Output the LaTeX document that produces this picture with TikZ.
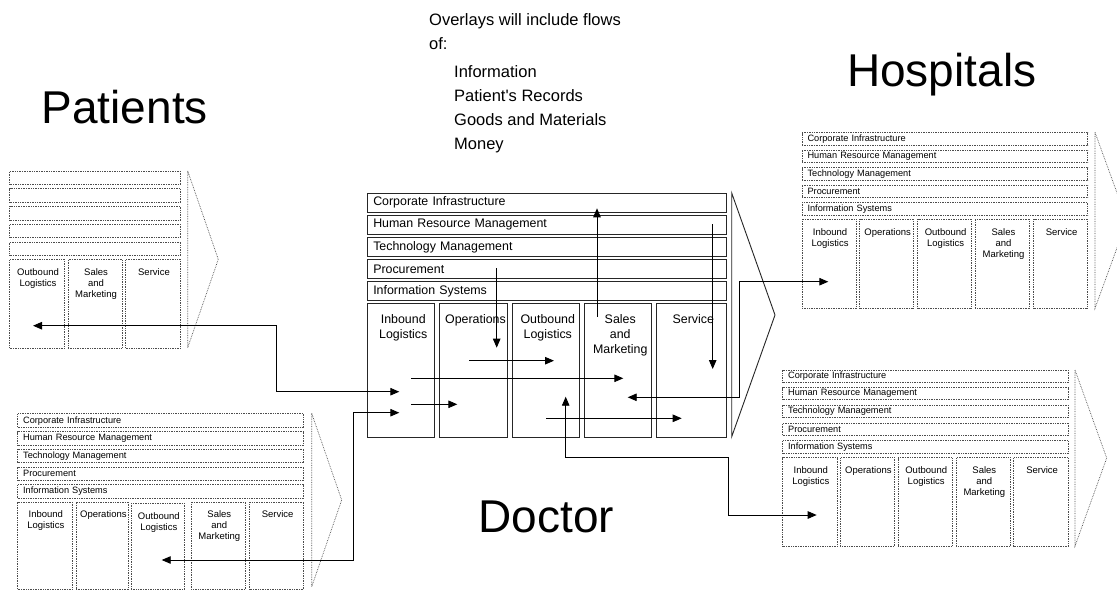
\documentclass[tikz,border=0pt]{standalone}
\usepackage{fontspec}
\setmainfont{Liberation Sans}
\newfontfamily\notefont{Liberation Sans}[Ligatures=TeXOff]
\usetikzlibrary{arrows.meta}

% support bar of a value chain: name, style, x1, y1, x2, y2, text
\newcommand\vcbar[7]{%
  \pgfmathsetmacro\vcw{#5-#3-11}\pgfmathsetmacro\vch{#6-#4}%
  \node[#2, anchor=north west, minimum height=\vch pt, text width=\vcw pt,
        inner xsep=5.5pt, inner ysep=0pt, align=left] (#1) at (#3,#4) {#7};}
% primary activity column: name, style, x1, y1, x2, y2, text
\newcommand\vccol[7]{%
  \pgfmathsetmacro\vcw{#5-#3}\pgfmathsetmacro\vch{#6-#4}%
  \node[#2, anchor=north west, minimum width=\vcw pt, minimum height=\vch pt,
        inner sep=0pt, label={[#2 text]north:{#7}}] (#1) at (#3,#4) {};}

\tikzset{
  mainline/.style={draw=black!85, line width=0.9pt},
  miniline/.style={draw=black!70, densely dotted, line width=0.7pt},
  mainbar/.style={mainline, font=\fontsize{12.4}{15}\selectfont},
  maincol/.style={mainline},
  maincol text/.style={anchor=north, inner sep=0pt, yshift=-11pt, xshift=2pt,
    align=center, font=\fontsize{12.4}{15}\selectfont},
  minibar/.style={miniline, font=\fontsize{9.2}{11}\selectfont},
  minicol/.style={miniline},
  minicol text/.style={anchor=north, inner sep=0pt, yshift=-9pt, xshift=1pt,
    align=center, font=\fontsize{9.5}{11}\selectfont},
  party/.style={anchor=base west, inner sep=0pt, font=\fontsize{46}{50}\selectfont},
  note/.style={anchor=base west, inner sep=0pt, font=\notefont\fontsize{16.5}{20}\selectfont},
  flow/.style={draw=black, line width=0.9pt, -{Triangle[length=9pt,width=7.5pt]}},
  biflow/.style={draw=black, line width=0.9pt,
    {Triangle[length=9pt,width=7.5pt]}-{Triangle[length=9pt,width=7.5pt]}},
}

\begin{document}
\begin{tikzpicture}[x=1pt, y=-1pt]
\clip (0,0) rectangle (1117,590);
\fill[white] (0,0) rectangle (1117,590);

% ---------- headings ----------
\node[party] (patients) at (41.5,123.3) {Patients};
\node[party] (hospitals) at (847,86.7) {Hospitals};
\node[party] (doctor) at (478.5,532.7) {Doctor};

\node[note] (n1) at (429,25) {Overlays will include flows};
\node[note] (n2) at (429,49) {of:};
\node[note] (n3) at (454,77.5) {Information};
\node[note] (n4) at (454,101.5) {Patient's Records};
\node[note] (n5) at (454,125) {Goods and Materials};
\node[note] (n6) at (454,149) {Money};

% ---------- central value chain ----------
\vcbar{ci}{mainbar}{367.3}{192.7}{725.7}{211.7}{Corporate Infrastructure}
\vcbar{hr}{mainbar}{367.3}{215}{725.7}{233.7}{Human Resource Management}
\vcbar{tm}{mainbar}{367.3}{237}{725.7}{255.7}{Technology Management}
\vcbar{pr}{mainbar}{367.3}{259}{725.7}{277.7}{Procurement}
\vcbar{is}{mainbar}{367.3}{281}{725.7}{299.7}{Information Systems}
\vccol{il}{maincol}{367.3}{303.3}{434.3}{436.7}{Inbound\\Logistics}
\vccol{op}{maincol}{439.3}{303.3}{506.7}{436.7}{Operations}
\vccol{ol}{maincol}{512}{303.3}{578.7}{436.7}{Outbound\\Logistics}
\vccol{sm}{maincol}{584.3}{303.3}{651.3}{436.7}{Sales\\and\\Marketing}
\vccol{sv}{maincol}{656}{303.3}{725.7}{436.7}{Service}
\draw[mainline] (731.7,193) -- (775,315) -- (731.7,436.7) -- cycle;

% ---------- patients value chain ----------
\vcbar{pa1}{minibar}{9.3}{171}{180}{184.3}{}
\vcbar{pa2}{minibar}{9.3}{188.3}{180}{202.3}{}
\vcbar{pa3}{minibar}{9.3}{206}{180}{220}{}
\vcbar{pa4}{minibar}{9.3}{224}{180}{237.3}{}
\vcbar{pa5}{minibar}{9.3}{241.7}{180}{255}{}
\vccol{paol}{minicol}{9.3}{259}{64}{347.7}{Outbound\\Logistics}
\vccol{pasm}{minicol}{67.7}{259}{121.7}{347.7}{Sales\\and\\Marketing}
\vccol{pasv}{minicol}{125.3}{259}{180}{347.7}{Service}
\draw[miniline] (187.7,171) -- (218.3,259.3) -- (187.7,347.7) -- cycle;

% ---------- lower left value chain ----------
\vcbar{bl1}{minibar}{17.3}{413.3}{303.3}{427.3}{Corporate Infrastructure}
\vcbar{bl2}{minibar}{17.3}{431.3}{303.3}{444.7}{Human Resource Management}
\vcbar{bl3}{minibar}{17.3}{449}{303.3}{462.3}{Technology Management}
\vcbar{bl4}{minibar}{17.3}{466.7}{303.3}{480}{Procurement}
\vcbar{bl5}{minibar}{17.3}{484.3}{303.3}{498}{Information Systems}
\vccol{blil}{minicol}{17.3}{501.7}{71.7}{589}{Inbound\\Logistics}
\vccol{blop}{minicol}{75.7}{501.7}{128.3}{589}{Operations}
\vccol{blol}{minicol}{130.7}{503.3}{184.3}{589}{Outbound\\Logistics}
\vccol{blsm}{minicol}{191}{501.7}{245}{589}{Sales\\and\\Marketing}
\vccol{blsv}{minicol}{249.3}{501.7}{303.3}{589}{Service}
\draw[miniline] (311.7,413.3) -- (341.7,500) -- (311.7,586.7) -- cycle;

% ---------- hospitals value chain ----------
\vcbar{ho1}{minibar}{801.7}{132.3}{1087.3}{144.8}{Corporate Infrastructure}
\vcbar{ho2}{minibar}{801.7}{149.8}{1087.3}{162.3}{Human Resource Management}
\vcbar{ho3}{minibar}{801.7}{167.3}{1087.3}{179.8}{Technology Management}
\vcbar{ho4}{minibar}{801.7}{184.8}{1087.3}{197.3}{Procurement}
\vcbar{ho5}{minibar}{801.7}{202.3}{1087.3}{215}{Information Systems}
\vccol{hoil}{minicol}{801.7}{219}{855.7}{308.3}{Inbound\\Logistics}
\vccol{hoop}{minicol}{859.3}{219}{913.3}{308.3}{Operations}
\vccol{hool}{minicol}{917.3}{219}{971.3}{308.3}{Outbound\\Logistics}
\vccol{hosm}{minicol}{975}{219}{1029.3}{308.3}{Sales\\and\\Marketing}
\vccol{hosv}{minicol}{1033.3}{219}{1087.3}{308.3}{Service}
\draw[miniline] (1095,132.3) -- (1127,220.3) -- (1095,308.3) -- cycle;

% ---------- lower right value chain ----------
\vcbar{lr1}{minibar}{782.3}{370}{1068.3}{381.7}{Corporate Infrastructure}
\vcbar{lr2}{minibar}{782.3}{387.3}{1068.3}{399}{Human Resource Management}
\vcbar{lr3}{minibar}{782.3}{405}{1068.3}{416.7}{Technology Management}
\vcbar{lr4}{minibar}{782.3}{422.7}{1068.3}{434.7}{Procurement}
\vcbar{lr5}{minibar}{782.3}{440.3}{1068.3}{452.7}{Information Systems}
\vccol{lril}{minicol}{782.3}{457.3}{836.7}{546}{Inbound\\Logistics}
\vccol{lrop}{minicol}{840}{457.3}{894}{546}{Operations}
\vccol{lrol}{minicol}{898}{457.3}{951.7}{546}{Outbound\\Logistics}
\vccol{lrsm}{minicol}{956}{457.3}{1010}{546}{Sales\\and\\Marketing}
\vccol{lrsv}{minicol}{1013.3}{457.3}{1068.3}{546}{Service}
\draw[miniline] (1075,370) -- (1106.7,458) -- (1075,546) -- cycle;

% ---------- flow end points ----------
\coordinate (f1a) at (597,316.7);   \coordinate (f1b) at (597,208.3);
\coordinate (f2a) at (496.7,268.3); \coordinate (f2b) at (496.7,347.7);
\coordinate (f3a) at (712.7,224);   \coordinate (f3b) at (712.7,369);
\coordinate (f4a) at (469,360.7);   \coordinate (f4b) at (554,360.7);
\coordinate (f5a) at (411,378.3);   \coordinate (f5b) at (623.3,378.3);
\coordinate (f6a) at (411,404.3);   \coordinate (f6b) at (457.3,404.3);
\coordinate (f7a) at (546,418.3);   \coordinate (f7b) at (681.7,418.3);

\coordinate (pt) at (33,325.7);     \coordinate (pk) at (276,391.7);
\coordinate (pm) at (399.3,391.7);
\coordinate (bt) at (161.7,560);    \coordinate (bk) at (353.3,412.7);
\coordinate (bm) at (399.3,412.7);
\coordinate (ht) at (828.3,281.7);  \coordinate (hk) at (739.3,281.7);
\coordinate (hm) at (627.7,397.3);
\coordinate (dm) at (565.7,396.7);  \coordinate (dk1) at (565.7,457.7);
\coordinate (dk2) at (728.3,457.7); \coordinate (dk3) at (728.3,515);
\coordinate (dt) at (816.7,515);

% ---------- flows inside the central chain ----------
\draw[flow] (f1a) -- (f1b);
\draw[flow] (f2a) -- (f2b);
\draw[flow] (f3a) -- (f3b);
\draw[flow] (f4a) -- (f4b);
\draw[flow] (f5a) -- (f5b);
\draw[flow] (f6a) -- (f6b);
\draw[flow] (f7a) -- (f7b);

% ---------- flows between chains ----------
\draw[biflow] (pt) -| (pk) -- (pm);
\draw[biflow] (bt) -| (bk) -- (bm);
\draw[biflow] (hm) -| (hk) -- (ht);
\draw[biflow] (dm) -- (dk1) -- (dk2) -- (dk3) -- (dt);
\end{tikzpicture}
\end{document}
